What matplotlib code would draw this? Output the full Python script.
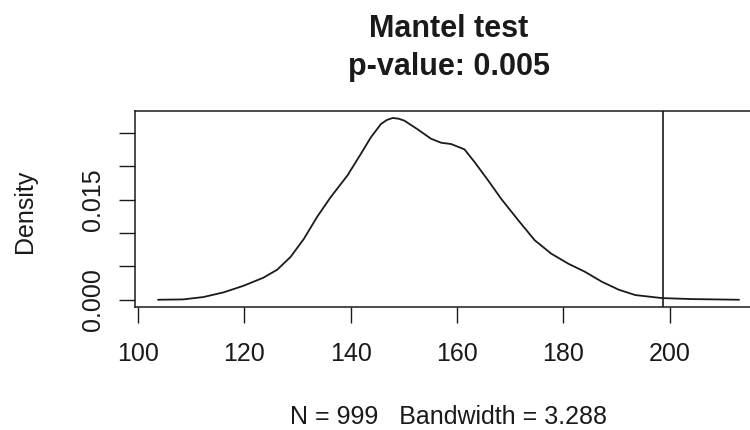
import matplotlib
matplotlib.use("Agg")
import matplotlib.pyplot as plt
from matplotlib.ticker import FixedLocator, FixedFormatter

plt.rcParams['font.family'] = ['Liberation Sans', 'DejaVu Sans']

# kernel density of the permuted Mantel statistics
perm_x = [103.8, 108.5, 112.3, 116.1, 119.9, 123.6, 126.2, 128.7, 131.2, 133.7,
          136.2, 139.4, 141.9, 143.8, 145.7, 146.8, 147.9, 149.0, 150.1, 152.6,
          155.1, 157.0, 158.9, 161.4, 163.3, 165.8, 168.3, 171.5, 174.6, 177.7,
          180.9, 184.0, 187.2, 190.4, 193.5, 198.5, 204.2, 213.0]
perm_density = [0.0000, 0.00005, 0.0004, 0.0011, 0.0021, 0.0033, 0.0045, 0.0064,
                0.0091, 0.0124, 0.0153, 0.0186, 0.0218, 0.0243, 0.0263, 0.0269,
                0.0272, 0.0271, 0.0268, 0.0255, 0.0241, 0.0235, 0.0233, 0.0225,
                0.0206, 0.0179, 0.0151, 0.0119, 0.0089, 0.0069, 0.0054, 0.0042,
                0.0027, 0.0015, 0.0007, 0.00025, 0.0001, 0.0000]
observed = 198.7

x_ticks = [100, 120, 140, 160, 180, 200]
y_ticks = [0.000, 0.005, 0.010, 0.015, 0.020, 0.025]
y_tick_labels = ["0.000", "", "", "0.015", "", ""]

title_lines = ["Mantel test", "p-value: 0.005"]
sub_label = "N = 999   Bandwidth = 3.288"

ink = "#1a1a1a"

fig = plt.figure(figsize=(7.5, 4.3), dpi=100)
ax = fig.add_axes([0.1797, 0.2860, 0.8367, 0.4565])

ax.plot(perm_x, perm_density, color=ink, lw=1.3,
        solid_joinstyle='round', solid_capstyle='round')
ax.axvline(observed, color=ink, lw=1.2)

# R-style 4% padding around the data range
xr = max(perm_x) - min(perm_x)
ax.set_xlim(min(perm_x) - 0.04 * xr, max(perm_x) + 0.04 * xr)
ymax = max(perm_density)
ax.set_ylim(-0.04 * ymax, 1.04 * ymax)

ax.xaxis.set_major_locator(FixedLocator(x_ticks))
ax.yaxis.set_major_locator(FixedLocator(y_ticks))
ax.yaxis.set_major_formatter(FixedFormatter(y_tick_labels))
ax.tick_params(axis='both', direction='out', length=11.5, width=1.0,
               color=ink, labelcolor=ink, labelsize=18)
ax.tick_params(axis='x', pad=13.5)
ax.tick_params(axis='y', pad=10)
for lab in ax.get_yticklabels():
    lab.set_rotation(90)
    lab.set_va('center')

for s in ax.spines.values():
    s.set_color(ink)
    s.set_linewidth(1.1)

cx = 0.1797 + 0.8367 / 2
fig.text(cx, 1 - 37.3 / 430, title_lines[0], ha='center', va='baseline',
         fontsize=22, fontweight='bold', color=ink)
fig.text(cx, 1 - 75 / 430, title_lines[1], ha='center', va='baseline',
         fontsize=22, fontweight='bold', color=ink)
fig.text(cx, 1 - 424 / 430, sub_label, ha='center', va='baseline',
         fontsize=18, color=ink)
fig.text(25 / 750, 1 - 211 / 430, "Density", rotation=90, ha='center',
         va='center', fontsize=18, color=ink)

fig.savefig("out.png", dpi=100)
